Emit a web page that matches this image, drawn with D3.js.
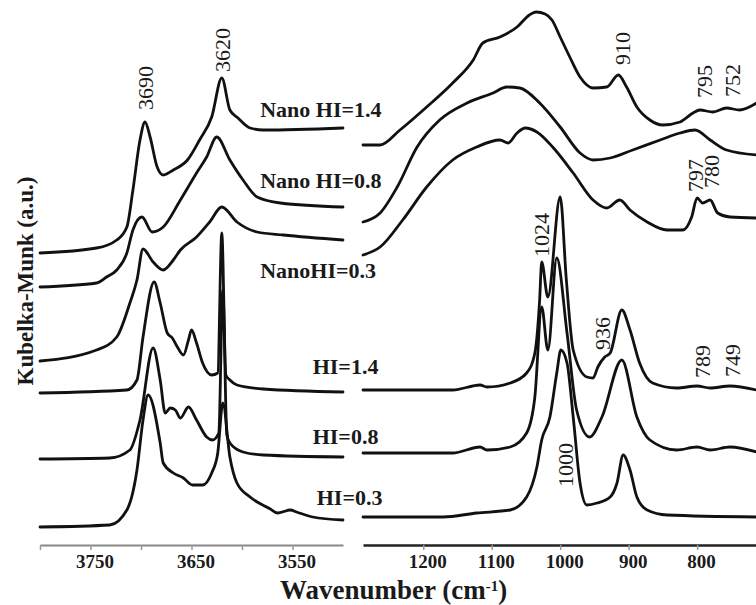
<!DOCTYPE html>
<html>
<head>
<meta charset="utf-8">
<script src="https://cdn.jsdelivr.net/npm/d3@7"></script>
<style>
  body { margin: 0; background: #fff; }
  text { font-family: "Liberation Serif", "Times New Roman", Times, "Nimbus Roman", "DejaVu Serif", serif; fill: #1a1a1a; }
</style>
</head>
<body>
<svg id="chart" width="756" height="605"></svg>
<script>
// [wavenumber cm-1, Kubelka-Munk a.u. (stacked)]
let nano14Left = [[3800,2.77],[3744,2.82],[3724,2.90],[3714,3.03],[3708,3.40],[3701,3.90],[3696,4.08],[3691,3.93],[3684,3.63],[3678,3.55],[3668,3.60],[3654,3.70],[3642,3.90],[3630,4.13],[3620,4.52],[3612,4.20],[3604,4.12],[3592,4.02],[3579,4.00],[3500,4.02]];
let nano14Right = [[1288,3.85],[1263,3.85],[1234,4.00],[1195,4.23],[1157,4.47],[1127,4.70],[1113,4.87],[1088,4.93],[1063,5.03],[1045,5.15],[1035,5.18],[1022,5.16],[1012,5.10],[1000,4.93],[986,4.73],[971,4.53],[952,4.42],[932,4.43],[915,4.55],[903,4.43],[888,4.23],[869,4.10],[850,4.05],[825,4.08],[806,4.17],[796,4.20],[777,4.18],[757,4.22],[738,4.20],[713,4.27]];

let nano08Left = [[3800,2.43],[3744,2.47],[3734,2.53],[3724,2.60],[3714,2.77],[3708,3.00],[3699,3.13],[3689,2.98],[3678,3.03],[3661,3.30],[3645,3.57],[3635,3.73],[3625,3.93],[3612,3.70],[3599,3.50],[3585,3.33],[3562,3.27],[3500,3.23]];
let nano08Right = [[1288,3.08],[1263,3.17],[1238,3.43],[1209,3.83],[1176,4.10],[1136,4.27],[1098,4.37],[1078,4.43],[1059,4.42],[1030,4.27],[1000,4.03],[971,3.77],[952,3.70],[927,3.72],[894,3.80],[854,3.90],[825,3.97],[803,4.00],[781,3.90],[757,3.80],[713,3.75]];

let nano03Left = [[3800,1.69],[3744,1.80],[3724,1.93],[3711,2.27],[3704,2.50],[3698,2.81],[3688,2.68],[3678,2.60],[3668,2.70],[3661,2.80],[3645,2.93],[3632,3.08],[3620,3.23],[3605,3.08],[3585,2.98],[3559,2.95],[3500,2.90]];
let nano03Right = [[1288,2.75],[1263,2.83],[1230,3.10],[1195,3.43],[1157,3.70],[1122,3.83],[1088,3.90],[1076,3.87],[1063,3.97],[1051,4.02],[1034,3.98],[1011,3.83],[981,3.57],[952,3.30],[932,3.22],[913,3.30],[898,3.20],[873,3.08],[844,3.00],[821,3.00],[808,3.13],[800,3.32],[792,3.27],[781,3.30],[770,3.17],[752,3.13],[713,3.12]];

let hi14Left = [[3800,1.37],[3714,1.40],[3704,1.50],[3698,1.93],[3687,2.48],[3681,2.27],[3674,1.97],[3669,1.92],[3664,1.83],[3658,1.75],[3653,1.90],[3650,2.00],[3645,1.87],[3639,1.67],[3630,1.55],[3624,1.57],[3620,2.97],[3616,1.55],[3612,1.50],[3605,1.45],[3579,1.41],[3500,1.38]];
let hi14Right = [[1288,1.40],[1157,1.40],[1117,1.45],[1107,1.43],[1073,1.47],[1049,1.57],[1037,1.77],[1030,2.30],[1027,2.68],[1018,2.33],[1000,3.33],[991,2.50],[981,1.80],[961,1.53],[952,1.52],[945,1.63],[935,1.73],[927,1.77],[910,2.20],[898,2.00],[884,1.67],[865,1.47],[830,1.42],[800,1.44],[781,1.42],[752,1.44],[713,1.40]];

let hi08Left = [[3800,0.71],[3731,0.72],[3711,0.80],[3701,1.10],[3688,1.82],[3681,1.50],[3676,1.17],[3671,1.22],[3666,1.20],[3661,1.12],[3653,1.23],[3645,1.10],[3635,0.93],[3629,0.90],[3623,0.97],[3619,2.40],[3615,0.95],[3612,0.87],[3599,0.78],[3579,0.75],[3500,0.73]];
let hi08Right = [[1288,0.77],[1157,0.77],[1117,0.83],[1107,0.80],[1073,0.83],[1049,0.97],[1037,1.33],[1027,2.23],[1018,1.80],[1005,2.72],[990,1.97],[976,1.20],[957,0.93],[939,1.13],[910,1.70],[888,1.13],[869,0.90],[830,0.80],[800,0.83],[781,0.80],[752,0.83],[713,0.78]];

let hi03Left = [[3800,0.03],[3731,0.05],[3714,0.20],[3704,0.60],[3698,1.10],[3693,1.35],[3681,0.87],[3678,0.67],[3668,0.57],[3658,0.52],[3649,0.45],[3639,0.45],[3630,0.57],[3624,0.77],[3619,1.27],[3612,0.73],[3605,0.47],[3592,0.33],[3572,0.21],[3565,0.17],[3552,0.20],[3546,0.18],[3530,0.13],[3500,0.10]];
let hi03Right = [[1288,0.13],[1171,0.13],[1122,0.17],[1073,0.20],[1049,0.33],[1034,0.63],[1027,0.90],[1015,1.13],[1005,1.57],[999,1.80],[990,1.67],[981,1.13],[971,0.47],[961,0.25],[946,0.27],[927,0.33],[917,0.47],[908,0.75],[898,0.60],[888,0.33],[873,0.20],[844,0.15],[713,0.13]];

let seriesNames = ["Nano HI=1.4", "Nano HI=0.8", "NanoHI=0.3", "HI=1.4", "HI=0.8", "HI=0.3"];
let leftSpectra  = [nano14Left, nano08Left, nano03Left, hi14Left, hi08Left, hi03Left];
let rightSpectra = [nano14Right, nano08Right, nano03Right, hi14Right, hi08Right, hi03Right];
let nameWave  = [3582, 3582, 3582, 3530, 3530, 3526];
let nameLevel = [4.13, 3.42, 2.52, 1.56, 0.86, 0.25];

// peak annotations
let leftPeakText  = ["3690", "3620"];
let leftPeakWave  = [3696, 3620];
let leftPeakLevel = [4.20, 4.58];
let rightPeakText  = ["910", "795", "752", "797", "780", "1024", "936", "789", "749", "1000"];
let rightPeakWave  = [910, 790, 748, 803, 780, 1027, 939, 792, 749, 993];
let rightPeakLevel = [4.65, 4.32, 4.33, 3.38, 3.42, 2.73, 1.80, 1.52, 1.53, 0.43];

let leftTicks = [3800, 3750, 3700, 3650, 3600, 3550];
let leftTickLabels = [3750, 3650, 3550];
let rightTicks = [1200, 1100, 1000, 900, 800];

let chart = d3.select("#chart");

let xLeft  = d3.scaleLinear().domain([3800, 3500]).range([40, 343]);
let xRight = d3.scaleLinear().domain([1288, 714]).range([363, 756]);
let y = d3.scaleLinear().domain([0, 5.3]).range([530, 0]);
let axisY = 545;

// spectra
function drawPanel(spectra, x) {
    let line = d3.line()
        .x(function(d) { return x(d[0]); })
        .y(function(d) { return y(d[1]); })
        .curve(d3.curveMonotoneX);
    chart.append("g").selectAll("path")
        .data(spectra)
        .enter()
        .append("path")
        .attr("d", line)
        .attr("fill", "none")
        .attr("stroke", "#111")
        .attr("stroke-width", 2.8)
        .attr("stroke-linejoin", "round")
        .attr("stroke-linecap", "round");
}
drawPanel(leftSpectra, xLeft);
drawPanel(rightSpectra, xRight);

// axes
let gLeft = chart.append("g")
    .attr("transform", "translate(0," + axisY + ")")
    .call(d3.axisBottom(xLeft)
        .tickValues(leftTicks)
        .tickSize(5).tickSizeOuter(0).tickPadding(5)
        .tickFormat(function(d) { return leftTickLabels.includes(d) ? d : ""; }));
gLeft.select(".domain").attr("stroke", "#888").attr("stroke-width", 2);
gLeft.selectAll(".tick line").attr("stroke", "#999").attr("stroke-width", 1.5);

let gRight = chart.append("g")
    .attr("transform", "translate(0," + axisY + ")")
    .call(d3.axisBottom(xRight)
        .tickValues(rightTicks)
        .tickSize(5).tickSizeOuter(0).tickPadding(5)
        .tickFormat(d3.format("d")));
gRight.select(".domain").attr("stroke", "#222").attr("stroke-width", 2.5);
gRight.selectAll(".tick line").attr("stroke", "#999").attr("stroke-width", 1.5);

chart.selectAll("g").attr("font-family", null);
chart.selectAll(".tick text")
    .attr("dx", 4)
    .style("font-weight", "bold")
    .style("font-size", "19px")
    .style("fill", "#1a1a1a");

// axis titles
let xTitle = chart.append("text")
    .attr("x", 280)
    .attr("y", 599)
    .style("font-weight", "bold")
    .style("font-size", "27px");
xTitle.append("tspan").text("Wavenumber (cm");
xTitle.append("tspan").text("-1").attr("dy", -8).style("font-size", "15px");
xTitle.append("tspan").text(")").attr("dy", 8);

chart.append("text")
    .attr("transform", "translate(33,281) rotate(-90)")
    .style("text-anchor", "middle")
    .style("font-weight", "bold")
    .style("font-size", "23px")
    .text("Kubelka-Munk (a.u.)");

// sample names
chart.selectAll("text.name")
    .data(seriesNames)
    .enter()
    .append("text")
    .attr("class", "name")
    .attr("x", function(d, i) { return xLeft(nameWave[i]); })
    .attr("y", function(d, i) { return y(nameLevel[i]); })
    .style("font-weight", "bold")
    .style("font-size", "22px")
    .text(function(d) { return d; });

// peak positions
function drawPeaks(texts, waves, levels, x) {
    chart.append("g").selectAll("text")
        .data(texts)
        .enter()
        .append("text")
        .attr("transform", function(d, i) {
            return "translate(" + x(waves[i]) + "," + y(levels[i]) + ") rotate(-90)";
        })
        .attr("dy", "0.35em")
        .style("font-size", "22px")
        .text(function(d) { return d; });
}
drawPeaks(leftPeakText, leftPeakWave, leftPeakLevel, xLeft);
drawPeaks(rightPeakText, rightPeakWave, rightPeakLevel, xRight);
</script>
</body>
</html>
